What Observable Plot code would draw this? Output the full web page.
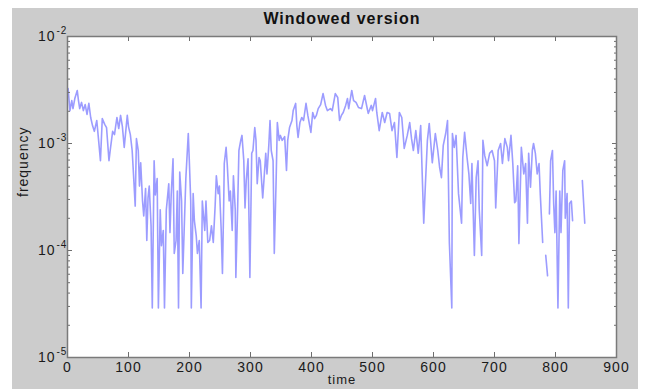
<!DOCTYPE html>
<html><head><meta charset="utf-8">
<script src="https://cdn.jsdelivr.net/npm/d3@7"></script>
<script src="https://cdn.jsdelivr.net/npm/@observablehq/plot@0.6"></script>
<style>
html,body{margin:0;padding:0;background:#fff;}
#wrap{position:relative;width:650px;height:389px;overflow:hidden;}
#bg{position:absolute;left:12px;top:8px;width:626px;height:381px;background:#cccccc;}
#chart{position:absolute;left:0;top:0;}
</style></head><body>
<div id="wrap"><div id="bg"></div><div id="chart"></div></div>
<script>
const time = [
  1,4,7,9,12,16,18,20,23,26,
  29,32,35,38,41,44,48,51,54,57,
  61,64,68,70,74,77,81,84,87,90,
  93,98,100,103,106,108,111,113,116,118,
  120,123,125,128,130,132,134,137,139,142,
  144,147,149,152,154,157,159,162,166,168,
  170,173,175,178,180,182,184,187,189,192,
  194,198,200,202,203,206,208,211,213,216,
  219,221,225,227,230,233,236,239,242,244,
  247,249,252,254,256,257,260,262,265,267,
  270,272,275,276,279,281,284,286,289,291,
  293,296,299,302,304,307,309,311,314,316,
  320,322,325,327,330,332,334,337,339,342,
  344,347,349,352,356,359,361,364,368,370,
  374,376,378,381,384,387,391,394,397,399,
  402,405,408,411,415,419,423,426,431,434,
  439,443,446,449,452,456,459,461,466,469,
  473,477,482,487,491,493,498,500,505,507,
  511,516,520,524,528,532,536,540,544,548,
  552,557,561,564,567,571,575,579,584,587,
  590,593,598,603,607,610,613,616,620,623,
  626,630,631,634,637,641,646,648,651,655,
  658,661,663,667,670,673,675,679,681,684,
  688,692,696,700,702,706,710,713,717,721,
  723,727,730,733,735,738,740,744,748,751,
  754,756,759,762,764,767,770,773,775,779,
  781,784,787,788,790,792,795,797,799,801,
  804,807,809,812,815,816,819,821,823,826,
  828,835,844,848
];
const freq = [
  3.27e-3,2.03e-3,2.52e-3,2.12e-3,2.63e-3,3.13e-3,2.52e-3,2.12e-3,2.42e-3,2.03e-3,
  2.31e-3,1.87e-3,2.37e-3,1.75e-3,1.47e-3,1.30e-3,1.64e-3,1.07e-3,6.9e-4,1.71e-3,
  1.51e-3,1.41e-3,6.9e-4,8.6e-4,1.30e-3,1.21e-3,1.75e-3,1.38e-3,1.83e-3,1.44e-3,
  9.2e-4,1.83e-3,1.44e-3,1.21e-3,8.6e-4,5.4e-4,2.6e-4,1.11e-3,8.6e-4,4.0e-4,
  6.6e-4,2.9e-4,2.1e-4,3.8e-4,1.24e-4,3.1e-4,4.0e-4,1.7e-4,2.9e-5,6.9e-4,
  3.3e-4,4.7e-4,2.9e-5,2.4e-4,1.11e-4,1.54e-4,2.9e-5,2.4e-4,4.2e-4,1.47e-4,
  3.3e-4,7.2e-4,9.4e-5,1.24e-4,3.6e-4,2.9e-5,5.4e-4,2.9e-4,6.1e-5,2.1e-4,
  4.7e-4,1.24e-3,6.2e-4,2.9e-4,2.9e-5,3.4e-4,1.9e-4,1.38e-4,9.4e-5,1.24e-4,
  2.9e-5,2.9e-4,1.54e-4,2.9e-4,1.19e-4,1.24e-4,1.7e-4,1.19e-4,2.6e-4,5.0e-4,
  3.4e-4,4.0e-4,1.54e-4,6.1e-5,2.6e-4,6.5e-4,9.2e-4,6.2e-4,2.9e-4,3.6e-4,
  1.54e-4,5.0e-4,2.4e-4,5.6e-5,2.6e-4,8.6e-4,1.07e-3,1.19e-3,6.9e-4,2.5e-4,
  4.5e-4,7.2e-4,5.6e-5,8.1e-4,8.6e-4,1.41e-3,1.07e-3,4.2e-4,7.4e-4,6.9e-4,
  3.1e-4,4.5e-4,8.1e-4,5.2e-4,9.6e-4,1.64e-3,8.6e-4,6.9e-4,9.4e-5,4.5e-4,
  1.57e-3,1.07e-3,1.19e-3,1.07e-3,1.16e-3,5.6e-4,1.07e-3,1.41e-3,1.64e-3,2.03e-3,
  2.37e-3,1.47e-3,1.14e-3,1.57e-3,1.75e-3,1.64e-3,2.37e-3,1.83e-3,1.47e-3,1.27e-3,
  1.95e-3,1.71e-3,1.83e-3,2.12e-3,2.31e-3,2.93e-3,2.27e-3,2.03e-3,2.12e-3,2.03e-3,
  2.93e-3,2.69e-3,1.64e-3,1.83e-3,1.95e-3,2.27e-3,2.63e-3,2.12e-3,3.13e-3,2.52e-3,
  2.42e-3,2.17e-3,2.12e-3,2.81e-3,2.17e-3,1.91e-3,2.27e-3,2.03e-3,2.63e-3,1.95e-3,
  1.32e-3,1.95e-3,1.57e-3,1.95e-3,1.91e-3,1.32e-3,1.57e-3,7.4e-4,1.95e-3,1.75e-3,
  9.0e-4,1.19e-3,1.57e-3,1.11e-3,8.6e-4,1.32e-3,8.1e-4,1.47e-3,1.8e-4,4.5e-4,
  1.07e-3,1.54e-3,6.6e-4,1.24e-3,8.6e-4,6.0e-4,4.8e-4,9.6e-4,1.24e-3,1.64e-3,
  1.19e-4,2.9e-5,1.24e-3,9.2e-4,1.19e-3,3.4e-4,1.8e-4,7.4e-4,1.27e-3,7.4e-4,
  5.2e-4,2.75e-4,6.5e-4,9.0e-5,4.8e-4,6.9e-4,2.4e-4,9.0e-5,1.07e-3,7.7e-4,
  6.2e-4,8.1e-4,8.6e-4,6.9e-4,2.5e-4,8.6e-4,1.0e-3,6.5e-4,1.11e-3,9.2e-4,
  6.9e-4,1.19e-3,6.5e-4,2.8e-4,2.9e-4,6.2e-4,1.16e-4,9.2e-4,5.2e-4,6.5e-4,
  1.8e-4,8.1e-4,3.9e-4,8.6e-4,1.0e-3,8.1e-4,5.2e-4,6.5e-4,3.4e-4,1.19e-4,
  null,9.0e-5,5.8e-5,null,2.2e-4,6.9e-4,8.6e-4,2.75e-4,1.47e-4,3.6e-4,
  2.9e-5,3.6e-4,1.47e-4,5.6e-4,6.9e-4,2.0e-4,3.4e-4,2.9e-5,2.75e-4,2.9e-4,
  1.9e-4,null,4.5e-4,1.8e-4
];
const xTicks = [0,100,200,300,400,500,600,700,800,900];
const yTicks = [1e-5,1e-4,1e-3,1e-2];
const titleText = "Windowed version";
const xLabel = "time";
const yLabel = "frequency";

const data = time.map((t, i) => ({time: t, freq: freq[i]}));
const yMinor = d3.scaleLog().domain([1e-5, 1e-2]).ticks()
  .filter(v => !yTicks.some(m => Math.abs(m - v) / m < 1e-9));

const tickColor = "#6e6e6e";
const chart = Plot.plot({
  width: 650, height: 389,
  marginLeft: 67, marginRight: 34, marginTop: 36, marginBottom: 32,
  style: {background: "transparent", fontFamily: "'Liberation Sans', Arial, sans-serif", fontSize: "14px", color: "#1a1a1a", letterSpacing: "1px"},
  x: {domain: [0, 900]},
  y: {type: "log", domain: [1e-5, 1e-2]},
  marks: [
    Plot.frame({fill: "white", stroke: null}),
    Plot.line(data, {x: "time", y: "freq", stroke: "#3a3aff", strokeWidth: 1.6, strokeOpacity: 0.5}),
    Plot.axisX({ticks: xTicks, tickSize: -5, tickPadding: 10, tickFormat: d => String(d), label: null, fontSize: 14, stroke: tickColor}),
    Plot.axisX({anchor: "top", ticks: xTicks, tickSize: -4, tickFormat: () => "", label: null, stroke: tickColor}),
    Plot.axisY({ticks: yTicks, tickSize: -5, tickFormat: () => "", label: null, stroke: tickColor}),
    Plot.axisY({anchor: "right", ticks: yTicks, tickSize: -5, tickFormat: () => "", label: null, stroke: tickColor}),
    Plot.axisY({ticks: yMinor, tickSize: -3, tickFormat: () => "", label: null, stroke: tickColor}),
    Plot.axisY({anchor: "right", ticks: yMinor, tickSize: -3, tickFormat: () => "", label: null, stroke: tickColor}),
    Plot.frame({stroke: "#7a7a7a", strokeWidth: 1.5}),
    Plot.text(yTicks, {y: d => d, frameAnchor: "left", text: () => "10", textAnchor: "end", dx: -12, fontSize: 14, lineAnchor: "middle", fill: "#1a1a1a"}),
    Plot.text(yTicks, {y: d => d, frameAnchor: "left", text: d => String(Math.round(Math.log10(d))), textAnchor: "start", dx: -11, dy: -6, fontSize: 10, lineAnchor: "middle", fill: "#1a1a1a"}),
    Plot.text([titleText], {text: d => d, frameAnchor: "top", dy: -18, fontWeight: "bold", fontSize: 16, lineAnchor: "middle", fill: "#111"}),
    Plot.text([xLabel], {text: d => d, frameAnchor: "bottom", dy: 17, lineAnchor: "top", fontSize: 13, fill: "#1a1a1a"}),
    Plot.text([yLabel], {text: d => d, frameAnchor: "left", dx: -44, rotate: -90, lineAnchor: "middle", fontSize: 14, fill: "#1a1a1a"})
  ]
});
document.getElementById("chart").appendChild(chart);
</script>
</body></html>
